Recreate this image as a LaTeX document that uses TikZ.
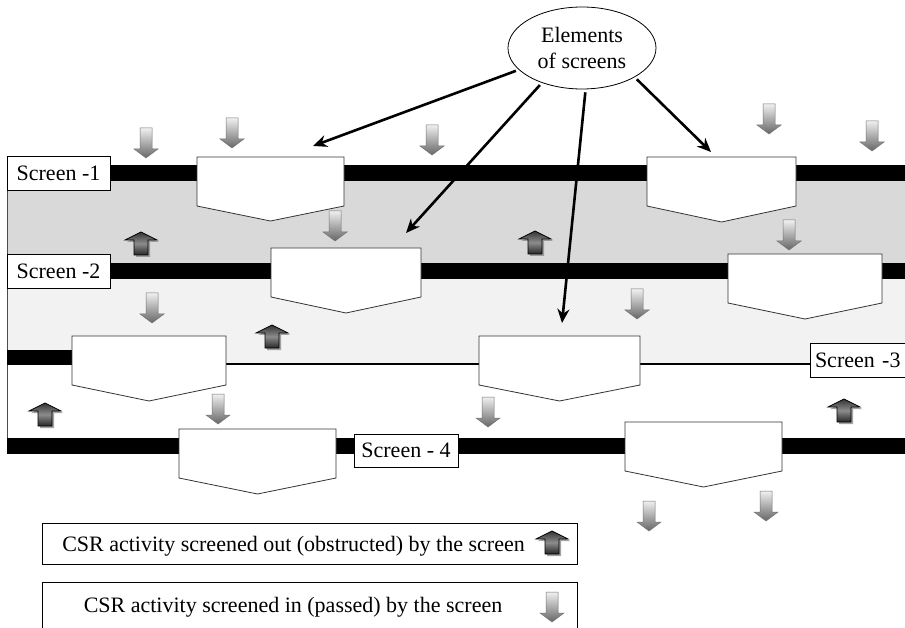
\documentclass[tikz,border=0pt]{standalone}
\usepackage{fontspec}
\setmainfont{Liberation Serif}
\usetikzlibrary{arrows.meta,shapes.geometric,shadows}

\newcommand{\elembox}[5]{%
  \draw[elemstyle] (#1,#3) -- (#2,#3) -- (#2,#4) -- ({(#1+#2)/2},#5) -- (#1,#4) -- cycle;}

\begin{document}
\begin{tikzpicture}[x=1pt,y=-1pt,
  labelfont/.style={font=\fontsize{22}{26}\selectfont},
  elemstyle/.style={draw=black!80,line width=0.8pt,fill=white},
  screenlabel/.style={draw=black,line width=0.8pt,fill=white,inner sep=0pt,
    minimum height=34pt,labelfont},
  passarrow/.style={draw=black!55,line width=0.5pt,top color=black!6,bottom color=black!60},
  blockarrow/.style={draw=black,line width=0.7pt,top color=black!80,bottom color=black!85,
    middle color=black!45,
    drop shadow={shadow xshift=2pt,shadow yshift=-2pt,fill=black!45,opacity=0.8}},
  pointer/.style={line width=2.6pt,-{Stealth[length=14pt,width=12pt]},shorten <=3pt},
  legendbox/.style={draw=black,line width=0.8pt,fill=white},
  pics/passed/.style={code={%
    \path[passarrow] (-6,0) -- (6,0) -- (6,21) -- (12,21) -- (0,30) -- (-12,21) -- (-6,21) -- cycle;}},
  pics/blocked/.style={code={%
    \path[blockarrow] (-7,23) -- (7,23) -- (7,8) -- (16,8) -- (0,0) -- (-16,8) -- (-7,8) -- cycle;}},
]
\clip (0,0) rectangle (905,628);

% shaded bands between the screens
\fill[black!15] (7,181) rectangle (905,263);
\fill[black!5] (7,279) rectangle (905,364);
\draw[black!70,line width=0.8pt] (7,165) -- (7,454);

% the screens
\fill (7,165) rectangle (905,181);
\fill (7,263) rectangle (905,279);
\fill (7,350) rectangle (72,365);
\draw[line width=1.2pt] (72,364) -- (905,364);
\fill (7,438) rectangle (905,454);

% elements sitting in the screens
\elembox{197}{344}{157}{206}{221}
\elembox{647}{796}{157}{206}{222}
\elembox{271}{421}{248}{297}{313}
\elembox{728}{882}{254}{303}{319}
\elembox{72}{226}{336}{385}{401}
\elembox{479}{640}{336}{385}{401}
\elembox{179}{336}{429}{478}{494}
\elembox{625}{782}{422}{471}{487}

% screen labels
\node[screenlabel,minimum width=103pt] (s1) at (58.5,173.5) {Screen -1};
\node[screenlabel,minimum width=103pt] (s2) at (58.5,271.5) {Screen -2};
\node[screenlabel,minimum width=105pt,text width=95pt,align=left] (s3) at (862.5,360) {Screen -3};
\node[screenlabel,minimum width=104pt,minimum height=33pt] (s4) at (406,450.5) {Screen - 4};

% activity passed by the screens
\foreach \p in {(146,128),(232,118),(432,125),(769,104),(872,121),(335,211),(789,220),
  (152,293),(637,289),(218,394),(488,397),(649,501),(766,491)}
  \pic at \p {passed};

% activity obstructed by the screens
\foreach \p in {(141,232),(272,325),(535,231),(45,403),(844,399)}
  \pic at \p {blocked};

% elements of screens
\node[draw,ellipse,line width=0.8pt,minimum width=148pt,minimum height=82pt,inner sep=0pt,
  align=center,labelfont] (el) at (582,48) {Elements\\of screens};
\coordinate (t1) at (313,146);
\coordinate (t2) at (406,233);
\coordinate (t3) at (562,323);
\coordinate (t4) at (711,152);
\draw[pointer] (el.199) -- (t1);
\draw[pointer] (el.221) -- (t2);
\draw[pointer] (el.-85) -- (t3);
\draw[pointer] (el.-29) -- (t4);

% legend
\node[legendbox,minimum width=535pt,minimum height=41pt] (lg1) at (309.5,543.5) {};
\node[labelfont,anchor=base,inner sep=0pt] (lt1) at (293.5,551) {CSR activity screened out (obstructed) by the screen};
\pic at (552,531) {blocked};
\node[legendbox,minimum width=535pt,minimum height=58pt] (lg2) at (309.5,611) {};
\node[labelfont,anchor=base,inner sep=0pt] (lt2) at (293,612) {CSR activity screened in (passed) by the screen};
\pic at (552,592) {passed};
\end{tikzpicture}
\end{document}
